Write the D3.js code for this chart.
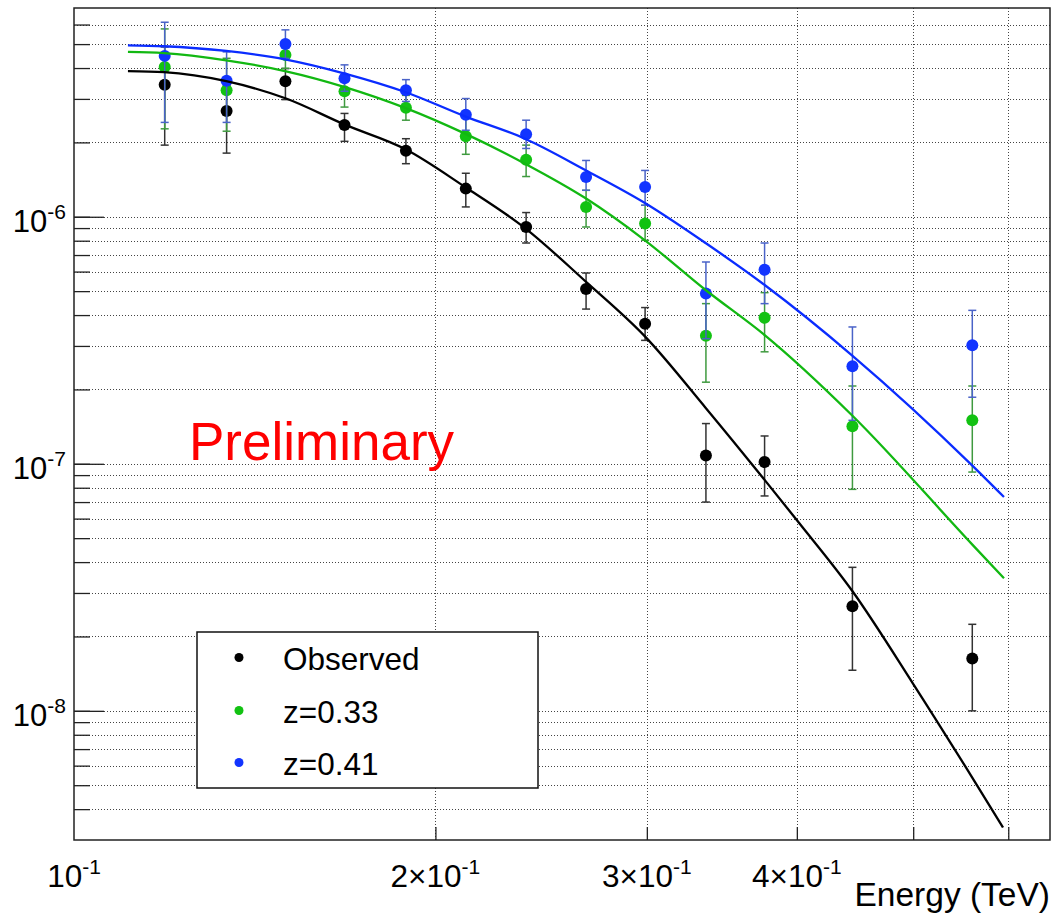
<!DOCTYPE html>
<html>
<head>
<meta charset="utf-8">
<script src="https://cdn.jsdelivr.net/npm/d3@7"></script>
<style>
  html, body { margin: 0; padding: 0; background: #fff; }
  svg { display: block; font-family: "Liberation Sans", Arial, Helvetica, sans-serif; }
</style>
</head>
<body>
<svg id="chart" width="1053" height="919"></svg>
<script>
// ---------------- data ----------------
const energy = [0.119, 0.134, 0.150, 0.168, 0.189, 0.212, 0.238, 0.267, 0.299, 0.336, 0.376, 0.445, 0.560];

const observed   = [3.42e-6, 2.68e-6, 3.54e-6, 2.35e-6, 1.85e-6, 1.30e-6, 9.09e-7, 5.10e-7, 3.69e-7, 1.08e-7, 1.017e-7, 2.65e-8, 1.63e-8];
const observedLo = [1.95e-6, 1.81e-6, 2.98e-6, 2.02e-6, 1.64e-6, 1.096e-6, 7.83e-7, 4.23e-7, 3.16e-7, 7.0e-8, 7.41e-8, 1.46e-8, 1.0e-8];
const observedHi = [4.87e-6, 3.40e-6, 3.98e-6, 2.62e-6, 2.07e-6, 1.50e-6, 1.04e-6, 5.92e-7, 4.29e-7, 1.455e-7, 1.296e-7, 3.81e-8, 2.24e-8];

const z033   = [4.04e-6, 3.25e-6, 4.52e-6, 3.22e-6, 2.76e-6, 2.12e-6, 1.70e-6, 1.096e-6, 9.39e-7, 3.30e-7, 3.90e-7, 1.42e-7, 1.50e-7];
const z033Lo = [2.27e-6, 2.22e-6, 3.99e-6, 2.78e-6, 2.46e-6, 1.79e-6, 1.455e-6, 9.09e-7, 8.03e-7, 2.14e-7, 2.84e-7, 7.88e-8, 9.26e-8];
const z033Hi = [5.76e-6, 4.38e-6, 4.99e-6, 3.64e-6, 3.10e-6, 2.51e-6, 1.95e-6, 1.28e-6, 1.113e-6, 4.45e-7, 4.93e-7, 2.065e-7, 2.065e-7];

const z041   = [4.48e-6, 3.55e-6, 5.01e-6, 3.64e-6, 3.25e-6, 2.59e-6, 2.16e-6, 1.45e-6, 1.32e-6, 4.89e-7, 6.10e-7, 2.48e-7, 3.02e-7];
const z041Lo = [2.41e-6, 2.41e-6, 4.38e-6, 3.22e-6, 2.93e-6, 2.24e-6, 1.89e-6, 1.28e-6, 1.113e-6, 3.21e-7, 4.45e-7, 1.50e-7, 1.86e-7];
const z041Hi = [6.13e-6, 4.65e-6, 5.71e-6, 4.12e-6, 3.59e-6, 3.01e-6, 2.46e-6, 1.69e-6, 1.54e-6, 6.56e-7, 7.83e-7, 3.58e-7, 4.18e-7];

// model curves
const curveE      = [0.1109, 0.1188, 0.1339, 0.1502, 0.1681, 0.1887, 0.2117, 0.2375, 0.2670, 0.2989, 0.3360, 0.3763, 0.4446, 0.5598, 0.5951];
const curveZ041   = [4.945e-6, 4.90e-6, 4.69e-6, 4.33e-6, 3.80e-6, 3.20e-6, 2.55e-6, 2.07e-6, 1.54e-6, 1.137e-6, 7.81e-7, 5.28e-7, 2.75e-7, 9.86e-8, 7.34e-8];
const curveZ033   = [4.65e-6, 4.60e-6, 4.30e-6, 3.88e-6, 3.35e-6, 2.76e-6, 2.17e-6, 1.64e-6, 1.185e-6, 8.03e-7, 5.04e-7, 3.31e-7, 1.572e-7, 4.72e-8, 3.44e-8];
const curveObsE   = [0.1109, 0.1188, 0.1339, 0.1502, 0.1681, 0.1887, 0.2117, 0.2375, 0.2670, 0.2989, 0.3360, 0.3763, 0.4013, 0.4446, 0.4998, 0.5598, 0.5940];
const curveObs    = [3.89e-6, 3.85e-6, 3.54e-6, 3.01e-6, 2.36e-6, 1.88e-6, 1.32e-6, 9.00e-7, 5.45e-7, 3.28e-7, 1.68e-7, 8.57e-8, 5.80e-8, 3.07e-8, 1.29e-8, 5.38e-9, 3.37e-9];

// axis ticks / labels
const xDomain = [0.1, 0.65];
const yDomain = [3e-9, 7e-6];
const xGridValues = [0.2, 0.3, 0.4, 0.5, 0.6];
const xLabelValues = [0.1, 0.2, 0.3, 0.4];
const xLabelMantissa = ["", "2\u00d7", "3\u00d7", "4\u00d7"];
const yMajorValues = [1e-8, 1e-7, 1e-6];
const yMajorExp = ["-8", "-7", "-6"];
const legendLabels = ["Observed", "z=0.33", "z=0.41"];
const seriesColors = ["#000000", "#12c212", "#1234ff"];
const barColors = ["#333333", "#3f9a3f", "#4a63c8"];

// ---------------- layout ----------------
const L = 74, R = 1050, T = 8, B = 840;
const svg = d3.select("#chart");
svg.append("rect").attr("width", 1053).attr("height", 919).attr("fill", "#fff");

const x = d3.scaleLog().domain(xDomain).range([L, R]);
const y = d3.scaleLog().domain(yDomain).range([B, T]);

// minor y values: k * 10^n inside domain
const yMinorValues = [];
for (let n = -9; n <= -6; n++) {
  for (let k = 1; k <= 9; k++) {
    const v = k * Math.pow(10, n);
    if (v > yDomain[0] * 1.0001 && v < yDomain[1] * 0.9999) yMinorValues.push(v);
  }
}

// grid
const grid = svg.append("g").attr("stroke", "#444").attr("stroke-width", 1).attr("stroke-dasharray", "1,2");
grid.selectAll("line.h").data(yMinorValues).join("line")
  .attr("x1", L).attr("x2", R)
  .attr("y1", d => Math.round(y(d)) + 0.5).attr("y2", d => Math.round(y(d)) + 0.5);
grid.selectAll("line.v").data(xGridValues).join("line")
  .attr("y1", T).attr("y2", B)
  .attr("x1", d => Math.round(x(d)) + 0.5).attr("x2", d => Math.round(x(d)) + 0.5);

// y ticks (inside, pointing right) via d3 axes
const yMinorAxis = d3.axisRight(y).tickValues(yMinorValues).tickSize(16).tickFormat("");
const yMajorAxis = d3.axisRight(y).tickValues(yMajorValues).tickSize(30).tickFormat("");
[yMinorAxis, yMajorAxis].forEach(ax => {
  const g = svg.append("g").attr("transform", `translate(${L},0)`).call(ax);
  g.select(".domain").remove();
  g.selectAll("line").attr("stroke", "#222").attr("stroke-width", 1.3);
});
// x ticks (inside, pointing up)
const xAx = d3.axisTop(x).tickValues(xGridValues).tickSize(13).tickFormat("");
const gx = svg.append("g").attr("transform", `translate(0,${B})`).call(xAx);
gx.select(".domain").remove();
gx.selectAll("line").attr("stroke", "#222").attr("stroke-width", 1.3);

// frame
svg.append("rect").attr("x", L).attr("y", T).attr("width", R - L).attr("height", B - T)
  .attr("fill", "none").attr("stroke", "#222").attr("stroke-width", 1.5);

// y labels
yMajorValues.forEach((v, i) => {
  const t = svg.append("text").attr("x", 66).attr("y", y(v) + 15)
    .attr("text-anchor", "end").attr("font-size", 31).attr("fill", "#000");
  t.append("tspan").text("10");
  t.append("tspan").attr("dy", -13).attr("font-size", 21).text(yMajorExp[i]);
});
// x labels
xLabelValues.forEach((v, i) => {
  const t = svg.append("text").attr("x", x(v)).attr("y", 887)
    .attr("text-anchor", "middle").attr("font-size", 31.5).attr("fill", "#000");
  t.append("tspan").text(xLabelMantissa[i] + "10");
  t.append("tspan").attr("dy", -13).attr("font-size", 21).text("-1");
});
svg.append("text").attr("x", R).attr("y", 906).attr("text-anchor", "end")
  .attr("font-size", 33.5).attr("fill", "#000").text("Energy (TeV)");

// Preliminary
svg.append("text").attr("x", 189).attr("y", 460).attr("font-size", 53)
  .attr("fill", "#ff0000").text("Preliminary");

// series
const series = [
  { v: observed, lo: observedLo, hi: observedHi },
  { v: z033, lo: z033Lo, hi: z033Hi },
  { v: z041, lo: z041Lo, hi: z041Hi }
];
series.forEach((s, si) => {
  const g = svg.append("g");
  const rows = energy.map((e, i) => ({ e, v: s.v[i], lo: s.lo[i], hi: s.hi[i] }));
  g.selectAll("line.bar").data(rows).join("line")
    .attr("x1", d => x(d.e)).attr("x2", d => x(d.e))
    .attr("y1", d => y(d.lo)).attr("y2", d => y(d.hi))
    .attr("stroke", barColors[si]).attr("stroke-width", 1.5);
  ["lo", "hi"].forEach(k => {
    g.selectAll("line.cap" + k).data(rows).join("line")
      .attr("x1", d => x(d.e) - 4).attr("x2", d => x(d.e) + 4)
      .attr("y1", d => y(d[k])).attr("y2", d => y(d[k]))
      .attr("stroke", barColors[si]).attr("stroke-width", 1.5);
  });
  g.selectAll("circle").data(rows).join("circle")
    .attr("cx", d => x(d.e)).attr("cy", d => y(d.v)).attr("r", 6)
    .attr("fill", seriesColors[si]);
});

// curves
const line = d3.line().x(d => x(d[0])).y(d => y(d[1])).curve(d3.curveMonotoneX);
const curves = [
  { e: curveObsE, v: curveObs, c: "#000000" },
  { e: curveE, v: curveZ033, c: "#12b812" },
  { e: curveE, v: curveZ041, c: "#0a2cff" }
];
curves.forEach(cv => {
  svg.append("path").datum(cv.e.map((e, i) => [e, cv.v[i]]))
    .attr("d", line).attr("fill", "none").attr("stroke", cv.c).attr("stroke-width", 2.3);
});

// legend
const lg = svg.append("g");
lg.append("rect").attr("x", 197).attr("y", 632).attr("width", 341).attr("height", 156)
  .attr("fill", "#fff").attr("stroke", "#111").attr("stroke-width", 1.5);
const legendY = [657.5, 710.5, 762.5];
legendLabels.forEach((lab, i) => {
  lg.append("circle").attr("cx", 239).attr("cy", legendY[i]).attr("r", 4.5).attr("fill", seriesColors[i]);
  lg.append("text").attr("x", 283).attr("y", legendY[i] + 12).attr("font-size", 31.5)
    .attr("fill", "#000").text(lab);
});
</script>
</body>
</html>
